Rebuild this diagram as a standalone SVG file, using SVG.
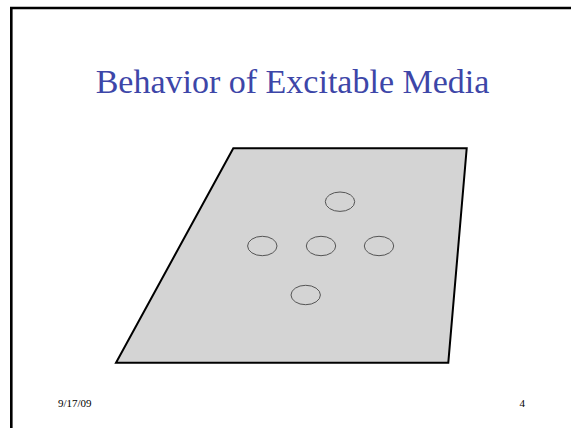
<svg xmlns="http://www.w3.org/2000/svg" width="571" height="428" viewBox="0 0 571 428">
<style>
.title{font-family:"Liberation Serif","Times New Roman",serif;font-size:34px;fill:#3d46a8}
.foot{font-family:"Liberation Serif","Times New Roman",serif;font-size:11px;fill:#000}
.spot{fill:none;stroke:#555;stroke-width:1}
</style>
<rect width="571" height="428" fill="#fff"/>
<path d="M11.3,428 V8 H571" fill="none" stroke="#000" stroke-width="2.6"/>
<text class="title" x="292.5" y="93" text-anchor="middle">Behavior of Excitable Media</text>
<g id="medium">
<polygon points="233.3,148.3 466.7,148.3 448.3,362.7 116,362.7" fill="#d4d4d4" stroke="#000" stroke-width="2"/>
</g>
<g id="spot-top"><ellipse class="spot" cx="340" cy="201.7" rx="14.7" ry="9.7"/></g>
<g id="spot-left"><ellipse class="spot" cx="262.3" cy="246" rx="14.7" ry="9.7"/></g>
<g id="spot-center"><ellipse class="spot" cx="321" cy="246" rx="14.7" ry="9.7"/></g>
<g id="spot-right"><ellipse class="spot" cx="379" cy="246" rx="14.7" ry="9.7"/></g>
<g id="spot-bottom"><ellipse class="spot" cx="305.7" cy="295" rx="14.7" ry="9.7"/></g>
<g id="connectors"></g>
<text class="foot" x="58" y="406.5">9/17/09</text>
<text class="foot" x="519.5" y="406.5">4</text>
</svg>
